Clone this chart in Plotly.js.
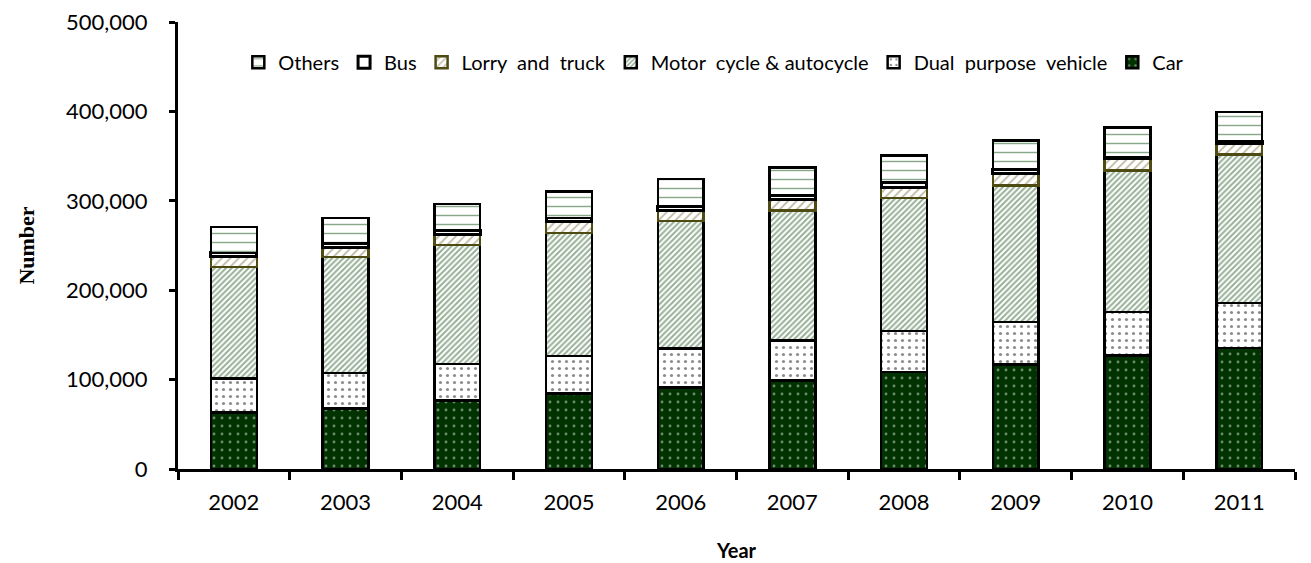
<!DOCTYPE html>
<html>
<head>
<meta charset="utf-8">
<script src="https://cdn.plot.ly/plotly-3.0.1.min.js"></script>
<style>html,body{margin:0;padding:0;background:#fff;}#chart{width:1311px;height:563px;}</style>
</head>
<body>
<div id="chart"></div>
<script>
var years = ["2002","2003","2004","2005","2006","2007","2008","2009","2010","2011"];
var car    = [63000, 67800, 76700, 84200, 90900, 99100, 108700, 117000, 127000, 135200];
var dual   = [38000, 39800, 41000, 42400, 43900, 44700, 45900, 47600, 48400, 50600];
var motor  = [125000, 129600, 132600, 137400, 142600, 145600, 148500, 152700, 158700, 166100];
var lorry  = [11200, 10500, 12300, 12300, 11200, 11900, 12300, 13100, 13000, 12700];
var bus    = [4500, 4400, 4400, 4500, 5300, 4800, 4900, 4400, 1500, 1500];
var others = [29000, 28700, 29400, 29800, 30500, 31000, 30500, 32400, 33200, 33100];
var yTicks = [0, 100000, 200000, 300000, 400000, 500000];

function tr(name, y, bg, fg, shape, size, sol, lineColor, lineWidth) {
  return {
    type: "bar", name: name, x: years, y: y,
    marker: {
      color: bg,
      line: {color: lineColor, width: lineWidth},
      pattern: {shape: shape, bgcolor: bg, fgcolor: fg, size: size, solidity: sol, fillmode: "overlay"}
    },
    hoverinfo: "x+y+name"
  };
}

var data = [
  tr("Car", car, "#003300", "#dfe6df", ".", 8, 0.1, "#000000", 2.5),
  tr("Dual  purpose  vehicle", dual, "#ffffff", "#1a1a1a", ".", 7, 0.16, "#000000", 2.5),
  tr("Motor  cycle & autocycle", motor, "#ffffff", "#2f5f2f", "/", 4, 0.5, "#000000", 2.5),
  tr("Lorry  and  truck", lorry, "#ffffff", "#7a7040", "/", 6, 0.3, "#4d4a12", 2.5),
  tr("Bus", bus, "#ffffff", "#8a2a8a", "", 6, 0.2, "#000000", 3),
  tr("Others", others, "#ffffff", "#145214", "-", 9, 0.16, "#000000", 2.5)
];

var layout = {
  width: 1311, height: 563,
  margin: {l: 178, r: 16, t: 22, b: 94},
  paper_bgcolor: "#ffffff", plot_bgcolor: "#ffffff",
  barmode: "stack",
  bargap: 0.59,
  font: {family: "Lato, 'Open Sans', sans-serif", size: 22, color: "#000"},
  showlegend: true,
  legend: {
    orientation: "h", traceorder: "reversed",
    x: 0.054, xanchor: "left", y: 0.91, yanchor: "middle",
    font: {size: 20, color: "#000"},
    bgcolor: "rgba(0,0,0,0)", itemwidth: 30
  },
  xaxis: {
    type: "category",
    showline: true, linecolor: "#000", linewidth: 3,
    ticks: "outside", tickson: "boundaries", ticklen: 8, tickwidth: 3, tickcolor: "#000",
    tickfont: {size: 22},
    ticklabelstandoff: 12,
    showgrid: false, zeroline: false,
    title: {text: "<b>Year</b>", font: {size: 20}, standoff: 30}
  },
  yaxis: {
    range: [0, 500000],
    tickvals: yTicks, tickformat: ",",
    showline: true, linecolor: "#000", linewidth: 3,
    ticks: "outside", ticklen: 6, tickwidth: 3, tickcolor: "#000",
    tickfont: {size: 22},
    ticklabelstandoff: 17,
    showgrid: false, zeroline: false,
    title: {text: "<b>Number</b>", font: {family: "'Liberation Serif', 'DejaVu Serif', serif", size: 22}, standoff: 26}
  }
};

Plotly.newPlot("chart", data, layout, {displayModeBar: false, staticPlot: true});
</script>
</body>
</html>
